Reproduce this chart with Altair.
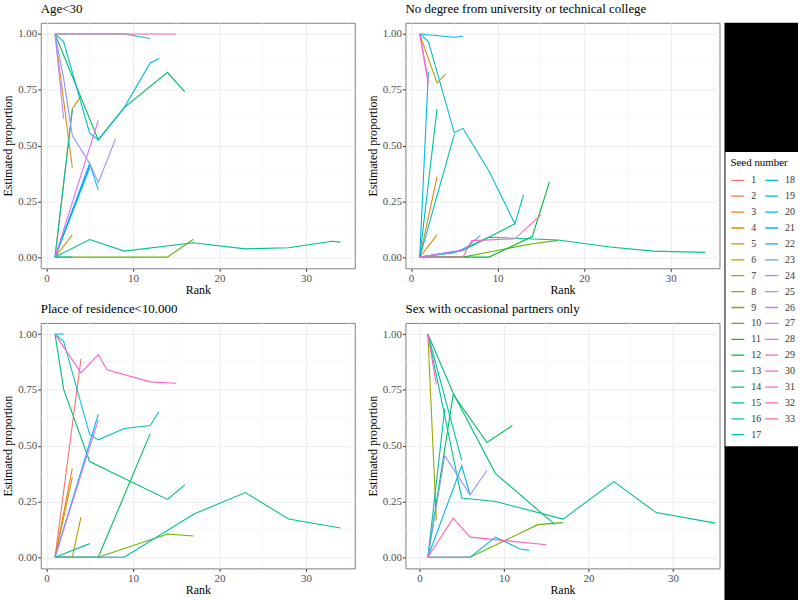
import math
import altair as alt
import pandas as pd

# ---------------- data (seed, ranks, estimated proportions) ----------------
AGE_LINES = [
    (3, [1, 3], [1, 0.40]),
    (4, [1, 3], [0, 0.10]),
    (5, [1, 3, 4], [0, 0.665, 0.72]),
    (10, [1, 14, 17], [0, 0, 0.08]),
    (13, [1, 6, 9, 14, 16], [1, 0.525, 0.67, 0.828, 0.74]),
    (15, [1, 5, 9, 17, 23, 28, 33, 34], [0, 0.079, 0.027, 0.064, 0.037, 0.042, 0.071, 0.067]),
    (16, [1, 3], [0, 0.66]),
    (17, [1, 9, 12], [1, 1, 0.98]),
    (18, [1, 3], [0, 0]),
    (19, [1, 2, 5, 6, 9, 12, 13], [1, 0.965, 0.555, 0.525, 0.67, 0.87, 0.89]),
    (20, [1, 5, 6], [0, 0.42, 0.30]),
    (21, [1, 5], [0, 0.40]),
    (22, [1, 5], [0, 0.41]),
    (24, [1, 2, 3, 5, 6, 8], [1, 0.80, 0.545, 0.42, 0.334, 0.53]),
    (25, [1, 2], [1, 0.62]),
    (27, [1, 6], [0, 0.612]),
    (31, [1, 9, 15], [1, 1, 1]),
]

DEGREE_LINES = [
    (3, [1, 3], [0, 0.36]),
    (4, [1, 3], [0, 0.10]),
    (6, [1, 3, 4], [1, 0.78, 0.82]),
    (10, [1, 6, 14, 17], [0, 0, 0.06, 0.075]),
    (12, [1, 9, 14, 16], [0, 0, 0.092, 0.337]),
    (14, [1, 6, 12], [0, 0.03, 0.149]),
    (15, [1, 5, 9, 17, 23, 28, 34], [0, 0.02, 0.089, 0.077, 0.045, 0.027, 0.021]),
    (16, [1, 3], [0, 0.664]),
    (17, [1, 5], [0, 0.55]),
    (18, [1, 2, 5, 6, 9, 12, 13], [1, 0.966, 0.557, 0.577, 0.386, 0.149, 0.28]),
    (19, [1, 5, 6], [1, 0.985, 0.99]),
    (20, [1, 2], [0, 0.832]),
    (23, [1, 6, 8], [0, 0.03, 0.097]),
    (26, [1, 6], [0, 0.033]),
    (27, [1, 2], [1, 0.79]),
    (30, [1, 2], [1, 0.773]),
    (31, [1, 6, 7, 12, 15], [0, 0, 0.074, 0.082, 0.189]),
]

RESIDENCE_LINES = [
    (1, [1, 4], [0, 0.889]),
    (3, [1, 3], [0, 0.398]),
    (4, [1, 3], [0, 0.358]),
    (6, [1, 3, 4], [0, 0, 0.18]),
    (10, [1, 6, 14, 17], [0, 0, 0.104, 0.095]),
    (13, [1, 6, 12], [0, 0, 0.554]),
    (14, [1, 2, 5, 14, 16], [1, 0.752, 0.429, 0.259, 0.324]),
    (15, [1, 9, 17, 23, 28, 34], [0, 0, 0.193, 0.29, 0.171, 0.131]),
    (16, [1, 5], [0, 0.061]),
    (18, [1, 2, 5, 6, 9, 12, 13], [1, 0.967, 0.551, 0.526, 0.577, 0.59, 0.652]),
    (19, [1, 2], [1, 1]),
    (20, [1, 6], [0, 0.64]),
    (24, [1, 9], [0, 0]),
    (26, [1, 6], [0, 0.615]),
    (30, [1, 4, 6, 7, 12, 15], [1, 0.826, 0.908, 0.84, 0.786, 0.78]),
]

SEX_LINES = [
    (8, [1, 2], [1, 0.165]),
    (10, [1, 6, 14, 17], [0, 0, 0.146, 0.155]),
    (13, [1, 4, 8, 11], [0, 0.73, 0.514, 0.59]),
    (14, [1, 4, 9, 16], [1, 0.735, 0.375, 0.147]),
    (15, [1, 5, 9, 17, 23, 28, 35], [1, 0.265, 0.25, 0.171, 0.339, 0.20, 0.153]),
    (16, [1, 3], [0, 0.666]),
    (17, [1, 5], [1, 0.435]),
    (19, [1, 6, 9, 12, 13], [0, 0, 0.09, 0.036, 0.031]),
    (20, [1, 5, 6], [0, 0.41, 0.28]),
    (24, [1, 3, 6, 8], [0, 0.455, 0.28, 0.39]),
    (26, [1, 6], [0, 0]),
    (30, [1, 2], [1, 0.774]),
    (31, [1, 4, 6, 15], [0, 0.175, 0.09, 0.056]),
]

PANEL_TITLES = [
    "Age<30",
    "No degree from university or technical college",
    "Place of residence<10.000",
    "Sex with occasional partners only",
]
X_TICKS = [0, 10, 20, 30]
X_MINOR = [5, 15, 25, 35]
Y_TICKS = [0, 0.25, 0.5, 0.75, 1.0]
Y_MINOR = [0.125, 0.375, 0.625, 0.875]
N_SEEDS = 33

# ---------------- ggplot2 hue palette ----------------
def hcl_hex(h, c=100.0, l=65.0):
    hr = math.radians(h)
    U, V = c * math.cos(hr), c * math.sin(hr)
    Xn, Yn, Zn = 95.047, 100.0, 108.883
    Y = Yn * ((l + 16) / 116) ** 3
    den = Xn + 15 * Yn + 3 * Zn
    un, vn = 4 * Xn / den, 9 * Yn / den
    u = U / (13 * l) + un
    v = V / (13 * l) + vn
    X = 9.0 * Y * u / (4 * v)
    Z = -X / 3 - 5 * Y + 3 * Y / v
    X, Y, Z = X / 100, Y / 100, Z / 100
    rl = 3.240479 * X - 1.537150 * Y - 0.498535 * Z
    gl = -0.969256 * X + 1.875992 * Y + 0.041556 * Z
    bl = 0.055648 * X - 0.204043 * Y + 1.057311 * Z

    def gam(t):
        t = max(0.0, min(1.0, t))
        t = 12.92 * t if t <= 0.0031308 else 1.055 * (t ** (1 / 2.4)) - 0.055
        return max(0, min(255, int(round(255 * t))))

    return "#{:02X}{:02X}{:02X}".format(gam(rl), gam(gl), gam(bl))


SEED_LABELS = [str(i) for i in range(1, N_SEEDS + 1)]
SEED_COLORS = [hcl_hex(15 + i * 360.0 / N_SEEDS) for i in range(N_SEEDS)]

FONT = "Liberation Serif"
W, H = 316, 247
COLOR_SCALE = alt.Scale(domain=SEED_LABELS, range=SEED_COLORS)


def frame(lines):
    rows = []
    for seed, ranks, vals in sorted(lines, key=lambda t: t[0]):
        for r, v in zip(ranks, vals):
            rows.append({"seed": str(seed), "rank": r, "value": v})
    return pd.DataFrame(rows)


def panel(title, lines, xdom):
    df = frame(lines)
    xs = alt.Scale(domain=xdom, nice=False, zero=False)
    ys = alt.Scale(domain=[-0.05, 1.05], nice=False, zero=False)
    xaxis = alt.Axis(values=X_TICKS, title="Rank", grid=True)
    yaxis = alt.Axis(values=Y_TICKS, format=".2f", title="Estimated proportion", grid=True)
    vgrid = alt.Chart(pd.DataFrame({"rank": X_MINOR})).mark_rule(
        color="#F3F3F3", strokeWidth=0.7).encode(x=alt.X("rank:Q", scale=xs, axis=xaxis))
    hgrid = alt.Chart(pd.DataFrame({"value": Y_MINOR})).mark_rule(
        color="#F3F3F3", strokeWidth=0.7).encode(y=alt.Y("value:Q", scale=ys, axis=yaxis))
    line = alt.Chart(df).mark_line(strokeWidth=1.1).encode(
        x=alt.X("rank:Q", scale=xs, axis=xaxis),
        y=alt.Y("value:Q", scale=ys, axis=yaxis),
        color=alt.Color("seed:N", scale=COLOR_SCALE, legend=None),
    )
    return alt.layer(vgrid, hgrid, line).properties(
        width=W, height=H,
        title=alt.TitleParams(title, anchor="start", frame="group", offset=7,
                              fontSize=13, font=FONT, fontWeight="normal", color="black"),
    )


p1 = panel(PANEL_TITLES[0], AGE_LINES, [-0.65, 35.65])
p2 = panel(PANEL_TITLES[1], DEGREE_LINES, [-0.65, 35.65])
p3 = panel(PANEL_TITLES[2], RESIDENCE_LINES, [-0.65, 35.65])
p4 = panel(PANEL_TITLES[3], SEX_LINES, [-1.65, 35.5])

legend = alt.Legend(
    orient="none", legendX=1, legendY=130, columns=2, symbolLimit=40,
    symbolType="stroke", symbolSize=169, symbolStrokeWidth=1.3,
    fillColor="white", padding=5, title="Seed number",
    titleFont=FONT, titleFontSize=11, titleFontWeight="normal", titleColor="black",
    titlePadding=6, labelFont=FONT, labelFontSize=10, labelColor="#333333",
    rowPadding=3, columnPadding=3, labelOffset=6, clipHeight=13,
)

# black strip on the right that carries the legend (one point per seed: draws nothing)
legend_df = pd.DataFrame({"seed": SEED_LABELS, "k": [5] * N_SEEDS})
spacer = alt.Chart(legend_df).mark_line(clip=True, strokeWidth=1.3).encode(
    x=alt.X("k:Q", axis=None, scale=alt.Scale(domain=[0, 1])),
    y=alt.Y("k:Q", axis=None, scale=alt.Scale(domain=[0, 1])),
    color=alt.Color("seed:N", scale=COLOR_SCALE, legend=legend),
).properties(width=74, height=600,
             view=alt.ViewBackground(fill="black", stroke="black", strokeWidth=0))

grid = alt.vconcat(
    alt.hconcat(p1, p2, spacing=10),
    alt.hconcat(p3, p4, spacing=10),
    spacing=6,
)

chart = alt.hconcat(grid, spacer, spacing=4).properties(
    padding={"left": 1, "top": 0, "right": 0, "bottom": 0}, background="white"
).resolve_legend(color="independent").configure(font=FONT).configure_view(
    stroke="#7F7F7F", strokeWidth=1
).configure_axis(
    grid=True, gridColor="#EBEBEB", gridWidth=1, domain=False,
    tickColor="#333333", tickSize=3, labelPadding=1,
    labelFont=FONT, labelFontSize=11, labelColor="#4D4D4D",
    titleFont=FONT, titleFontSize=12, titleFontWeight="normal", titleColor="black",
).configure_axisX(titlePadding=1).configure_axisY(titlePadding=3)

chart.save("out.html", embed_options={"renderer": "svg", "actions": False})
